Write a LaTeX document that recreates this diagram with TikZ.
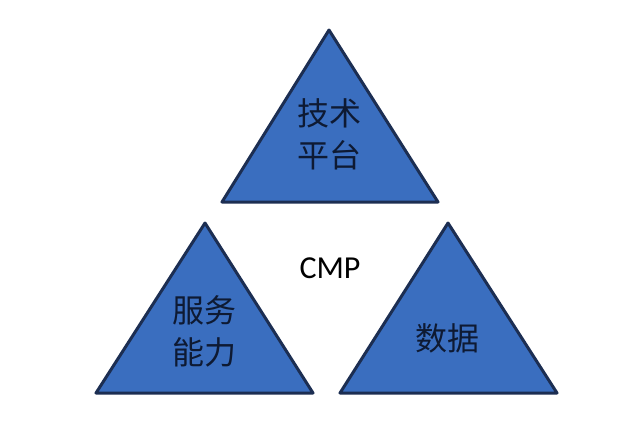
\documentclass[tikz,border=0pt]{standalone}
\usepackage{fontspec}
\setmainfont{Carlito}
\newfontfamily\cjk{Noto Sans CJK SC}
\definecolor{tribfill}{HTML}{3A6EBF}
\definecolor{tribline}{HTML}{1C2E52}
\definecolor{tribtext}{HTML}{0E1A33}
\begin{document}
\begin{tikzpicture}[x=1pt,y=-1pt,
  tri/.style={fill=tribfill,draw=tribline,line width=3pt,line join=round},
  cjklabel/.style={font=\cjk\fontsize{32}{42}\selectfont,text=tribtext,align=center,inner sep=0pt},
  cmplabel/.style={font=\fontsize{32}{38}\selectfont,text=black,inner sep=0pt}]
\useasboundingbox (0,0) rectangle (639,421);
\fill[white] (0,0) rectangle (639,421);
\draw[tri] (329,30) -- (438,202) -- (222,202) -- cycle;
\draw[tri] (205,223) -- (313,393) -- (96,393) -- cycle;
\draw[tri] (448,223) -- (557,393) -- (340,393) -- cycle;
\node[cjklabel] (top) at (329.5,134) {技术\\平台};
\node[cjklabel] (left) at (204,331) {服务\\能力};
\node[cjklabel] (right) at (447,338) {数据};
\node[cmplabel] (cmp) at (330,268) {CMP};
\end{tikzpicture}
\end{document}
